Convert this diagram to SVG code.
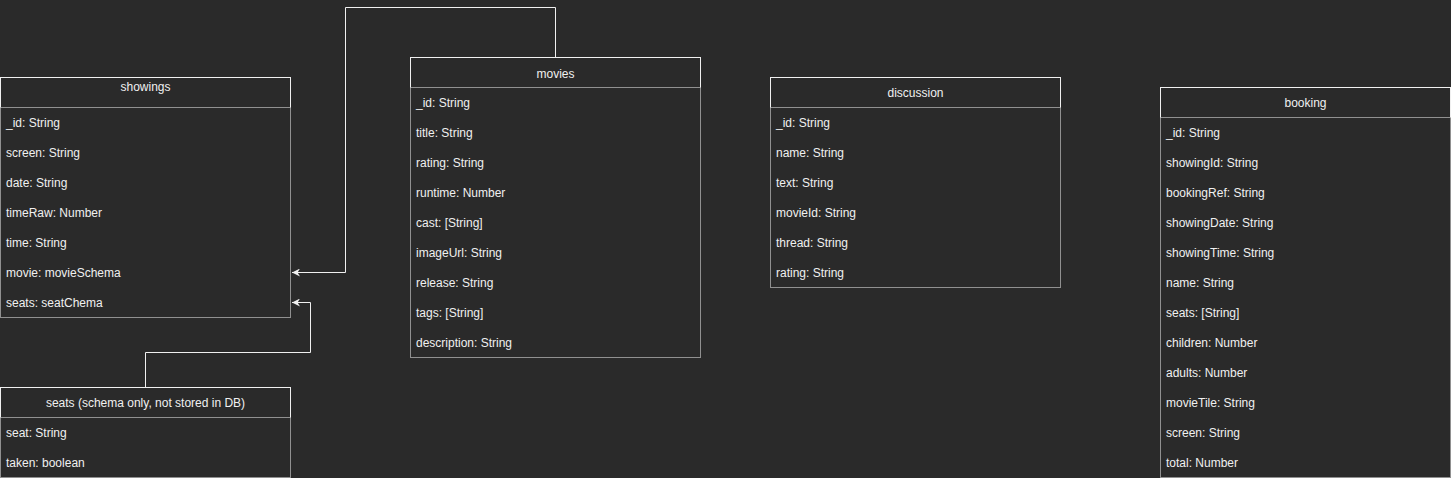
<svg xmlns="http://www.w3.org/2000/svg" width="1451" height="478" viewBox="0 0 1451 478">
<style>
.bg{fill:#2a2a2a}
.hd{fill:#2a2a2a;stroke:#f0f0f0;stroke-width:1}
.bd{fill:#2a2a2a;stroke:#909090;stroke-width:1}
.t{font-family:"Liberation Sans",Arial,sans-serif;font-size:12px;fill:#f0f0f0;dominant-baseline:central}
.c{text-anchor:middle}
.e{fill:none;stroke:#f0f0f0;stroke-width:1}
</style>
<defs>
<marker id="arr" viewBox="0 0 10 10" refX="10" refY="5" markerWidth="8" markerHeight="8" markerUnits="userSpaceOnUse" orient="auto">
<path d="M0,0 L10,5 L0,10 L3,5 z" fill="#f0f0f0"/>
</marker>
</defs>
<rect class="bg" x="0" y="0" width="1451" height="478"/>

<g id="connectors">
<path class="e" d="M555.5,57 V7.5 H345.5 V272.5 H292" marker-end="url(#arr)"/>
<path class="e" d="M145.5,387 V352.5 H310.5 V302.5 H292" marker-end="url(#arr)"/>
</g>

<g id="showings">
<rect class="bd" x="0.5" y="107.5" width="290" height="210"/>
<rect class="hd" x="0.5" y="77.5" width="290" height="30"/>
<line x1="0.5" y1="107.5" x2="290.5" y2="107.5" stroke="#909090"/>
<text class="t c" x="145.5" y="86.5">showings</text>
<text class="t" x="6" y="123">_id: String</text>
<text class="t" x="6" y="153">screen: String</text>
<text class="t" x="6" y="183">date: String</text>
<text class="t" x="6" y="213">timeRaw: Number</text>
<text class="t" x="6" y="243">time: String</text>
<text class="t" x="6" y="273">movie: movieSchema</text>
<text class="t" x="6" y="303">seats: seatChema</text>
</g>

<g id="movies">
<rect class="bd" x="410.5" y="87.5" width="290" height="270"/>
<rect class="hd" x="410.5" y="57.5" width="290" height="30"/>
<line x1="410.5" y1="87.5" x2="700.5" y2="87.5" stroke="#909090"/>
<text class="t c" x="555.5" y="73.5">movies</text>
<text class="t" x="416" y="103">_id: String</text>
<text class="t" x="416" y="133">title: String</text>
<text class="t" x="416" y="163">rating: String</text>
<text class="t" x="416" y="193">runtime: Number</text>
<text class="t" x="416" y="223">cast: [String]</text>
<text class="t" x="416" y="253">imageUrl: String</text>
<text class="t" x="416" y="283">release: String</text>
<text class="t" x="416" y="313">tags: [String]</text>
<text class="t" x="416" y="343">description: String</text>
</g>

<g id="discussion">
<rect class="bd" x="770.5" y="107.5" width="290" height="180"/>
<rect class="hd" x="770.5" y="77.5" width="290" height="30"/>
<line x1="770.5" y1="107.5" x2="1060.5" y2="107.5" stroke="#909090"/>
<text class="t c" x="915.5" y="93">discussion</text>
<text class="t" x="776" y="123">_id: String</text>
<text class="t" x="776" y="153">name: String</text>
<text class="t" x="776" y="183">text: String</text>
<text class="t" x="776" y="213">movieId: String</text>
<text class="t" x="776" y="243">thread: String</text>
<text class="t" x="776" y="273">rating: String</text>
</g>

<g id="booking">
<rect class="bd" x="1160.5" y="117.5" width="290" height="360"/>
<rect class="hd" x="1160.5" y="87.5" width="290" height="30"/>
<line x1="1160.5" y1="117.5" x2="1450.5" y2="117.5" stroke="#909090"/>
<text class="t c" x="1305.5" y="103">booking</text>
<text class="t" x="1166" y="133">_id: String</text>
<text class="t" x="1166" y="163">showingId: String</text>
<text class="t" x="1166" y="193">bookingRef: String</text>
<text class="t" x="1166" y="223">showingDate: String</text>
<text class="t" x="1166" y="253">showingTime: String</text>
<text class="t" x="1166" y="283">name: String</text>
<text class="t" x="1166" y="313">seats: [String]</text>
<text class="t" x="1166" y="343">children: Number</text>
<text class="t" x="1166" y="373">adults: Number</text>
<text class="t" x="1166" y="403">movieTile: String</text>
<text class="t" x="1166" y="433">screen: String</text>
<text class="t" x="1166" y="463">total: Number</text>
</g>

<g id="seats">
<rect class="bd" x="0.5" y="417.5" width="290" height="60"/>
<rect class="hd" x="0.5" y="387.5" width="290" height="30"/>
<line x1="0.5" y1="417.5" x2="290.5" y2="417.5" stroke="#909090"/>
<text class="t c" x="145.5" y="403">seats (schema only, not stored in DB)</text>
<text class="t" x="6" y="433">seat: String</text>
<text class="t" x="6" y="463">taken: boolean</text>
</g>
</svg>
